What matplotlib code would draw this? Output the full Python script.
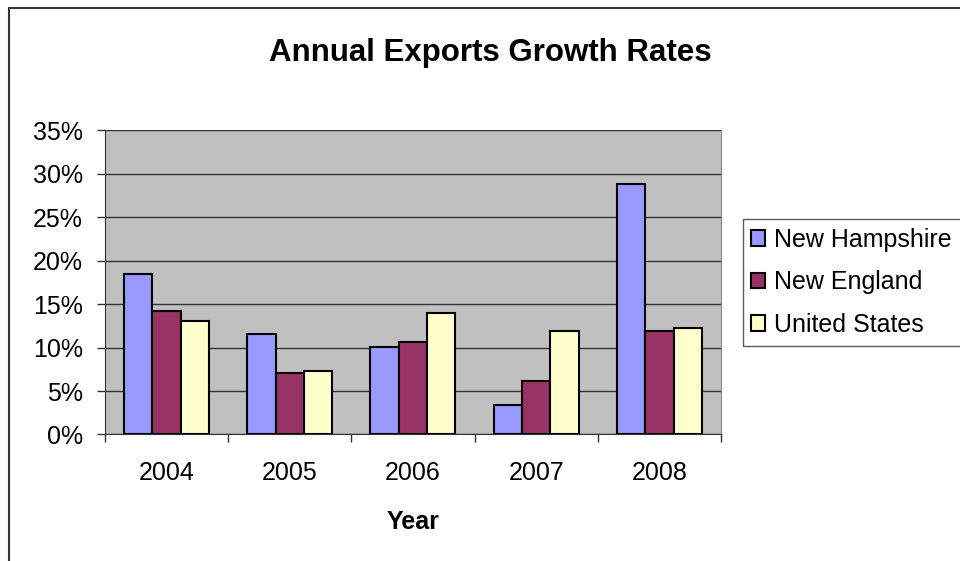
import numpy as np
import matplotlib
matplotlib.use("Agg")
import matplotlib.pyplot as plt
from matplotlib.patches import Rectangle
from matplotlib.ticker import FuncFormatter

plt.rcParams['font.family'] = ['Liberation Sans', 'DejaVu Sans']

years = ['2004', '2005', '2006', '2007', '2008']
new_hampshire = [18.4, 11.5, 10.1, 3.4, 28.8]
new_england = [14.2, 7.1, 10.6, 6.2, 11.9]
united_states = [13.1, 7.3, 14.0, 11.9, 12.2]

series = [('New Hampshire', new_hampshire, '#9999FF'),
          ('New England', new_england, '#993366'),
          ('United States', united_states, '#FFFFCC')]

fig = plt.figure(figsize=(9.6, 5.61), dpi=100)
ax = fig.add_axes([0.1094, 0.2255, 0.6416, 0.5427])
ax.set_facecolor('#C0C0C0')

x = np.arange(len(years))
w = 0.23
for i, (name, vals, col) in enumerate(series):
    ax.bar(x + (i - 1) * w, vals, w, color=col, edgecolor='black',
           linewidth=1.5, label=name, zorder=3)

ax.set_xlim(-0.5, len(years) - 0.5)
ax.set_ylim(0, 35)
ax.set_yticks(np.arange(0, 36, 5))
ax.yaxis.set_major_formatter(FuncFormatter(lambda v, p: '%d%%' % v))
ax.yaxis.grid(True, color='#333333', linewidth=1, zorder=1)
ax.set_axisbelow(True)

ax.set_xticks(x)
ax.set_xticklabels(years)
ax.set_xticks(np.arange(-0.5, len(years), 1), minor=True)
ax.tick_params(axis='x', which='major', length=0, pad=19, labelsize=18)
ax.tick_params(axis='x', which='minor', length=6, width=1, color='#333333')
ax.tick_params(axis='y', length=6, width=1, color='#333333', labelsize=18, pad=10)

ax.spines['top'].set_visible(False)
ax.spines['right'].set_color('#888888')
ax.spines['left'].set_color('#333333')
ax.spines['bottom'].set_color('#333333')

ax.set_xlabel('Year', fontsize=18, fontweight='bold', labelpad=18)
fig.text(0.5104, 0.9055, 'Annual Exports Growth Rates', ha='center', va='center',
         fontsize=22.5, fontweight='bold')

leg = fig.legend(loc='upper left', bbox_to_anchor=(0.7736, 0.6096), fontsize=18,
                 handlelength=0.56, handleheight=0.56, handletextpad=0.36,
                 labelspacing=0.74, frameon=True, fancybox=False,
                 borderpad=0.35, borderaxespad=0)
leg.get_frame().set_edgecolor('#333333')
leg.get_frame().set_linewidth(1)

fig.patches.append(Rectangle((0.0095, -0.1), 1.2, 1.085, transform=fig.transFigure,
                             fill=False, edgecolor='#333333', linewidth=1.5))

fig.savefig('out.png', dpi=100)
